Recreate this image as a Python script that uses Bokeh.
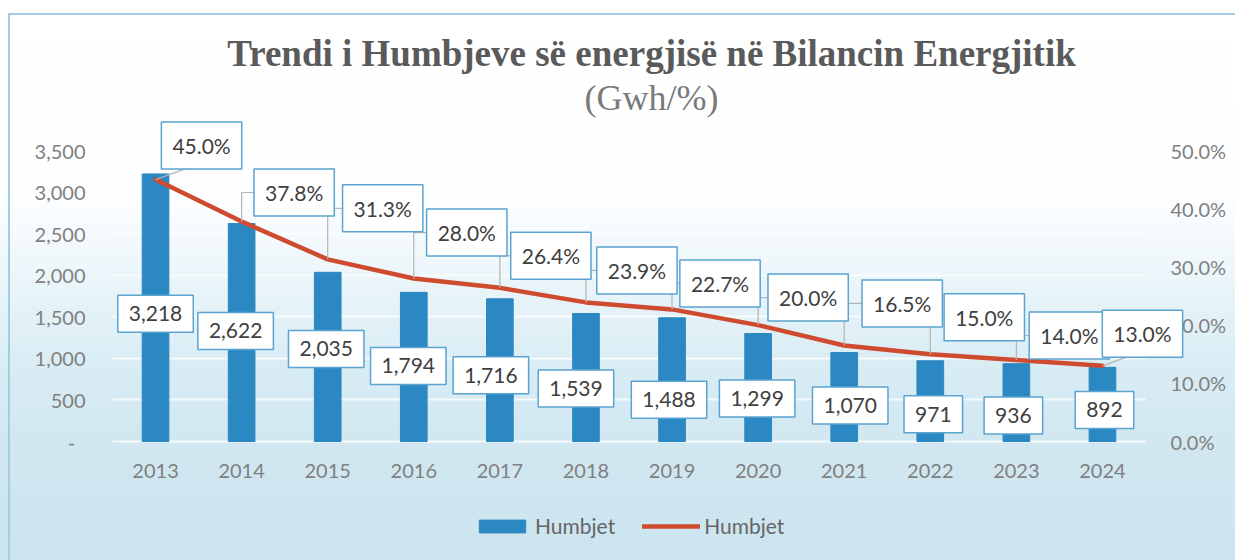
from bokeh.plotting import figure
from bokeh.models import (Range1d, LinearAxis, FixedTicker, NumeralTickFormatter,
                          Legend, LegendItem, Title, Label)
from bokeh.embed import file_html
from bokeh.resources import INLINE

# ---------------- data ----------------
years = ["2013", "2014", "2015", "2016", "2017", "2018",
         "2019", "2020", "2021", "2022", "2023", "2024"]
losses_gwh = [3218, 2622, 2035, 1794, 1716, 1539, 1488, 1299, 1070, 971, 936, 892]
losses_pct = [0.450, 0.378, 0.313, 0.280, 0.264, 0.239, 0.227, 0.200, 0.165, 0.150, 0.140, 0.130]
left_ticks = [0, 500, 1000, 1500, 2000, 2500, 3000, 3500]
right_ticks = [0.0, 0.1, 0.2, 0.3, 0.4, 0.5]

# label nudges in screen pixels (+x right, +y down)
bar_lbl_dx = [0, -6, -1.5, -5.5, -9, -10, -3, -1, 6, 3, -3, 2]
bar_lbl_dy = [6, -1.5, -8, -1, 5, 11, 20, 11, 8.5, 13, 13, 5.5]
pct_lbl_dx = [46, 52.5, 55, 53, 51, 51, 48, 50, 58, 54, 53, 40]
pct_lbl_dy = [-34, -29, -51, -46, -32, -32, -26, -27.5, -42, -37, -24.5, -32]

# ---------------- geometry (pixels) ----------------
W, H = 1235, 560
FL, FR, FT, FB = 112, 1190, 119, 552      # frame edges (extended for labels/legend)
CAT_W = 1033 / 12                          # px per category
Y0 = 441                                   # pixel of value 0
AX_H = 291                                 # px from 0 to axis max
YMAX, PMAX = 3500, 0.5
n = len(years)
ux = CAT_W
uy = AX_H / YMAX
up = AX_H / PMAX
idx = list(range(n))

GREY = "#808080"
TXT = "#404040"
BLUE = "#2c88c2"
RED = "#cf4b30"
BOXLINE = "#5ba3d0"

p = figure(width=W, height=H, output_backend="svg", toolbar_location=None,
           x_range=Range1d(-0.5, -0.5 + (FR - FL) / ux),
           y_range=Range1d(-(FB - Y0) / uy, (Y0 - FT) / uy),
           min_border_left=FL, min_border_right=W - FR, min_border_top=FT,
           min_border_bottom=H - FB, title_location=None, tools="")
p.extra_y_ranges = {"pct": Range1d(-(FB - Y0) / up, (Y0 - FT) / up)}
p.background_fill_alpha = 0
p.border_fill_alpha = 0
p.outline_line_color = None
p.styles = {
    "background": (
        "linear-gradient(#a3cde1, #a3cde1) 8px 13px / 2px 600px no-repeat, "
        "linear-gradient(#a3cde1, #a3cde1) 8px 13px / 1300px 2px no-repeat, "
        "linear-gradient(to bottom, #ffffff 0%, #fdfeff 35%, #e8f4f9 52%, "
        "#d8ecf4 66%, #d0e7f0 82%, #cbe4ef 100%)"
    ),
}

# grid
p.xgrid.visible = False
g = p.ygrid[0]
g.ticker = FixedTicker(ticks=left_ticks)
g.grid_line_color = "white"
g.grid_line_alpha = 0.75
g.grid_line_width = 2
if "cross_bounds" in g.properties():
    g.cross_bounds = (-0.5, n - 0.5)


def style_axis(ax, standoff):
    ax.axis_line_color = None
    ax.major_tick_line_color = None
    ax.minor_tick_line_color = None
    ax.major_tick_out = 0
    ax.major_tick_in = 0
    ax.major_label_text_font = "Lato"
    ax.major_label_text_font_size = "20px"
    ax.major_label_text_color = GREY
    ax.major_label_standoff = standoff


# left axis
yax = p.yaxis[0]
yax.ticker = FixedTicker(ticks=left_ticks)
yax.formatter = NumeralTickFormatter(format="0,0")
yax.major_label_overrides = {0: "-\u00a0\u00a0"}
style_axis(yax, 27)

# x axis (labels pulled up to sit just under the zero line)
xax = p.xaxis[0]
xax.ticker = FixedTicker(ticks=idx)
xax.major_label_overrides = {i: y for i, y in enumerate(years)}
style_axis(xax, 473 - FB - 10)

# right axis (labels pulled inside the extended frame)
rax = LinearAxis(y_range_name="pct", ticker=FixedTicker(ticks=right_ticks),
                 formatter=NumeralTickFormatter(format="0.0%"))
style_axis(rax, -(FR - 1170))
p.add_layout(rax, "right")


def make_title(text, size, style, color, standoff):
    kw = dict(text=text, align="center", text_font="Liberation Serif",
              text_font_size=size, text_font_style=style, text_color=color)
    try:
        return Title(standoff=standoff, **kw)
    except Exception:
        return Title(standoff=0, **kw)


# titles (first added is closest to the plot)
p.add_layout(make_title("(Gwh/%)", "36px", "normal", "#7a7a7a", 4), "above")
p.add_layout(make_title("Trendi i Humbjeve së energjisë në Bilancin Energjitik",
                        "37px", "bold", "#5a5a5a", 0), "above")

# glyphs
bars = p.vbar(x=idx, top=losses_gwh, width=0.31, color=BLUE)
line = p.line(idx, losses_pct, y_range_name="pct", line_color=RED,
              line_width=4.5, line_join="round", line_cap="round")

# leader lines + percentage labels
lead_xs, lead_ys = [], []
for i, (pv, dx, dy) in enumerate(zip(losses_pct, pct_lbl_dx, pct_lbl_dy)):
    t = f"{pv * 100:.1f}%"
    w, h = 9 * len(t) + 30, 37
    cx = i + dx / ux
    cy = pv - dy / up
    if dx - w / 2 > 10:
        lead_xs.append([i, i, cx - (w / 2) / ux])
        lead_ys.append([pv, cy, cy])
    else:
        lead_xs.append([i, cx - 3 / ux])
        lead_ys.append([pv, cy - (h / 2) / up])
p.multi_line(lead_xs, lead_ys, y_range_name="pct", line_color="#b4b4b4", line_width=1.2)

for i, (pv, dx, dy) in enumerate(zip(losses_pct, pct_lbl_dx, pct_lbl_dy)):
    p.add_layout(Label(x=i + dx / ux, y=pv - dy / up, y_range_name="pct",
                       text=f"{pv * 100:.1f}%", text_font="Lato", text_font_size="21px",
                       text_color=TXT, text_align="center", text_baseline="middle",
                       background_fill_color="white", border_line_color=BOXLINE,
                       border_line_width=1.5, padding=11))

for i, (v, dx, dy) in enumerate(zip(losses_gwh, bar_lbl_dx, bar_lbl_dy)):
    p.add_layout(Label(x=i + dx / ux, y=v / 2 - dy / uy,
                       text=f"{v:,}", text_font="Lato", text_font_size="21px",
                       text_color=TXT, text_align="center", text_baseline="middle",
                       background_fill_color="white", border_line_color=BOXLINE,
                       border_line_width=1.5, padding=11))

legend = Legend(items=[LegendItem(label="Humbjet", renderers=[bars]),
                       LegendItem(label="Humbjet", renderers=[line])],
                orientation="horizontal", location=(473 - FL, FB - 538),
                glyph_width=58, glyph_height=16, label_height=25,
                label_standoff=4, spacing=27,
                label_text_font="Lato", label_text_font_size="21px",
                label_text_color="#666666", background_fill_alpha=0,
                border_line_color=None, padding=0, margin=0)
p.add_layout(legend)

open("out.html", "w").write(file_html(p, INLINE))
